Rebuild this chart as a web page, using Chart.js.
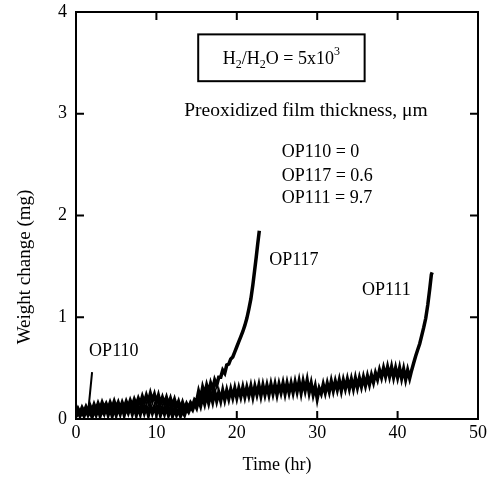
<!DOCTYPE html>
<html>
<head>
<meta charset="utf-8">
<script src="https://cdn.jsdelivr.net/npm/chart.js@4/dist/chart.umd.min.js"></script>
<style>
html,body{margin:0;padding:0;background:#fff;}
#wrap{width:492px;height:484px;position:relative;}
</style>
</head>
<body>
<div id="wrap"><canvas id="c" width="492" height="484"></canvas></div>
<script>
// ---- Data ----
const xTicks = [0, 10, 20, 30, 40, 50];
const yTicks = [0, 1, 2, 3, 4];

// sampling times of the noisy recorded traces (hr)
const timeGrid = [
  0, 0.25, 0.5, 0.75, 1, 1.25, 1.5, 1.75, 2, 2.25, 2.5, 2.75, 3, 3.25, 3.5, 3.75,
  4, 4.25, 4.5, 4.75, 5, 5.25, 5.5, 5.75, 6, 6.25, 6.5, 6.75, 7, 7.25, 7.5, 7.75,
  8, 8.25, 8.5, 8.75, 9, 9.25, 9.5, 9.75, 10, 10.25, 10.5, 10.75, 11, 11.25, 11.5, 11.75,
  12, 12.25, 12.5, 12.75, 13, 13.25, 13.5, 13.75, 14, 14.25, 14.5, 14.75, 15, 15.25, 15.5, 15.75,
  16, 16.25, 16.5, 16.75, 17, 17.25, 17.5, 17.75, 18, 18.25, 18.5, 18.75, 19, 19.25, 19.5, 19.75,
  20, 20.25, 20.5, 20.75, 21, 21.25, 21.5, 21.75, 22, 22.25, 22.5, 22.75, 23, 23.25, 23.5, 23.75,
  24, 24.25, 24.5, 24.75, 25, 25.25, 25.5, 25.75, 26, 26.25, 26.5, 26.75, 27, 27.25, 27.5, 27.75,
  28, 28.25, 28.5, 28.75, 29, 29.25, 29.5, 29.75, 30, 30.25, 30.5, 30.75, 31, 31.25, 31.5, 31.75,
  32, 32.25, 32.5, 32.75, 33, 33.25, 33.5, 33.75, 34, 34.25, 34.5, 34.75, 35, 35.25, 35.5, 35.75,
  36, 36.25, 36.5, 36.75, 37, 37.25, 37.5, 37.75, 38, 38.25, 38.5, 38.75, 39, 39.25, 39.5, 39.75,
  40, 40.25, 40.5, 40.75, 41, 41.25, 41.5, 41.75
];

const op110Time = [0, 0.25, 0.5, 0.75, 1, 1.25, 1.5, 1.75, 2.0];
const op110Mass = [0.03, 0.07, 0.03, 0.06, 0.03, 0.07, 0.06, 0.26, 0.46];

// OP117: noisy part on timeGrid (0 .. 21.75 hr), then the steep end
const op117Noisy = [
  0.05, 0.10, 0.06, 0.11, 0.07, 0.12, 0.08, 0.13, 0.08, 0.14, 0.09, 0.15, 0.10, 0.16, 0.11, 0.15,
  0.10, 0.16, 0.11, 0.17, 0.11, 0.16, 0.10, 0.16, 0.11, 0.17, 0.12, 0.18, 0.13, 0.19, 0.14, 0.20,
  0.15, 0.22, 0.16, 0.23, 0.17, 0.25, 0.18, 0.24, 0.16, 0.23, 0.15, 0.21, 0.15, 0.21, 0.14, 0.20,
  0.13, 0.19, 0.12, 0.17, 0.10, 0.16, 0.10, 0.15, 0.11, 0.16, 0.13, 0.19, 0.17, 0.27, 0.20, 0.31,
  0.24, 0.33, 0.26, 0.35, 0.29, 0.38, 0.33, 0.41, 0.41, 0.48, 0.45, 0.53, 0.54, 0.59, 0.61, 0.66,
  0.71, 0.76, 0.81, 0.86, 0.92, 0.99, 1.08, 1.18
];
const op117EndTime = [22.0, 22.2, 22.4, 22.6, 22.8];
const op117EndMass = [1.32, 1.45, 1.58, 1.72, 1.85];

// OP111: noisy part on timeGrid (0 .. 41.75 hr), then the steep end
const op111Noisy = [
  0.02, 0.08, 0.03, 0.07, 0.03, 0.09, 0.04, 0.08, 0.02, 0.09, 0.04, 0.10, 0.03, 0.09, 0.05, 0.11,
  0.04, 0.10, 0.03, 0.11, 0.04, 0.11, 0.05, 0.12, 0.04, 0.11, 0.06, 0.12, 0.05, 0.12, 0.04, 0.12,
  0.05, 0.13, 0.06, 0.12, 0.04, 0.13, 0.06, 0.12, 0.05, 0.12, 0.04, 0.11, 0.05, 0.12, 0.04, 0.11,
  0.03, 0.10, 0.04, 0.09, 0.03, 0.08, 0.04, 0.10, 0.07, 0.12, 0.09, 0.15, 0.11, 0.19, 0.13, 0.22,
  0.15, 0.24, 0.16, 0.25, 0.17, 0.27, 0.18, 0.26, 0.18, 0.28, 0.19, 0.28, 0.20, 0.29, 0.21, 0.30,
  0.21, 0.30, 0.22, 0.31, 0.22, 0.31, 0.23, 0.32, 0.22, 0.32, 0.24, 0.33, 0.23, 0.33, 0.24, 0.33,
  0.24, 0.34, 0.25, 0.34, 0.24, 0.34, 0.26, 0.35, 0.25, 0.35, 0.26, 0.35, 0.26, 0.36, 0.27, 0.37,
  0.26, 0.37, 0.28, 0.38, 0.26, 0.35, 0.24, 0.32, 0.20, 0.30, 0.25, 0.34, 0.26, 0.35, 0.27, 0.37,
  0.28, 0.37, 0.29, 0.38, 0.28, 0.38, 0.30, 0.39, 0.30, 0.39, 0.30, 0.40, 0.31, 0.40, 0.32, 0.41,
  0.33, 0.42, 0.34, 0.43, 0.36, 0.45, 0.39, 0.48, 0.41, 0.50, 0.42, 0.51, 0.42, 0.51, 0.41, 0.50,
  0.41, 0.50, 0.40, 0.49, 0.39, 0.48, 0.40, 0.48
];
const op111EndTime = [42.0, 42.25, 42.5, 42.75, 43.0, 43.25, 43.5, 43.75, 44.0, 44.2, 44.3];
const op111EndMass = [0.55, 0.62, 0.68, 0.74, 0.82, 0.90, 0.99, 1.12, 1.28, 1.42, 1.44];

const curveLabels = [
  {text: 'OP110', x: 4.7, y: 0.67},
  {text: 'OP117', x: 27.1, y: 1.56},
  {text: 'OP111', x: 38.6, y: 1.27}
];
const legendLines = ['OP110 = 0', 'OP117 = 0.6', 'OP111 = 9.7'];
const legendX = 25.6;
const legendY = [2.62, 2.39, 2.17];
const filmTitle = 'Preoxidized film thickness, \u03BCm';
const filmTitlePos = {x: 28.6, y: 3.03};
const yTitle = 'Weight change (mg)';
const xTitle = 'Time (hr)';

const pts = (t, v) => v.map((y, i) => ({x: t[i], y: y}));
const FONT = '"Liberation Serif", "Times New Roman", serif';

const framePlugin = {
  id: 'frame',
  afterDraw(chart) {
    const ctx = chart.ctx, a = chart.chartArea;
    const xs = chart.scales.x, ys = chart.scales.y;
    ctx.save();
    ctx.strokeStyle = '#000';
    ctx.lineWidth = 2;
    ctx.strokeRect(a.left, a.top, a.right - a.left, a.bottom - a.top);
    const L = 8;
    ctx.beginPath();
    xTicks.slice(1, -1).forEach(v => {
      const p = xs.getPixelForValue(v);
      ctx.moveTo(p, a.bottom); ctx.lineTo(p, a.bottom - L);
      ctx.moveTo(p, a.top); ctx.lineTo(p, a.top + L);
    });
    yTicks.slice(1, -1).forEach(v => {
      const p = ys.getPixelForValue(v);
      ctx.moveTo(a.left, p); ctx.lineTo(a.left + L, p);
      ctx.moveTo(a.right, p); ctx.lineTo(a.right - L, p);
    });
    ctx.stroke();

    ctx.fillStyle = '#000';
    ctx.font = '18px ' + FONT;
    ctx.textBaseline = 'middle';
    ctx.textAlign = 'center';
    curveLabels.forEach(l => {
      ctx.fillText(l.text, xs.getPixelForValue(l.x), ys.getPixelForValue(l.y));
    });
    ctx.font = '19.5px ' + FONT;
    ctx.fillText(filmTitle, xs.getPixelForValue(filmTitlePos.x), ys.getPixelForValue(filmTitlePos.y));
    ctx.font = '18px ' + FONT;
    ctx.textAlign = 'left';
    legendLines.forEach((s, i) => {
      ctx.fillText(s, xs.getPixelForValue(legendX), ys.getPixelForValue(legendY[i]));
    });

    // axis titles
    ctx.textAlign = 'center';
    ctx.fillText(xTitle, (a.left + a.right) / 2, 465);
    ctx.save();
    ctx.translate(25, 267);
    ctx.rotate(-Math.PI / 2);
    ctx.font = '19px ' + FONT;
    ctx.fillText(yTitle, 0, 0);
    ctx.restore();

    // boxed ratio label
    const bx0 = xs.getPixelForValue(15.2), bx1 = xs.getPixelForValue(35.9);
    const by0 = ys.getPixelForValue(3.78), by1 = ys.getPixelForValue(3.32);
    ctx.lineWidth = 2;
    ctx.strokeRect(bx0, by0, bx1 - bx0, by1 - by0);
    const parts = [
      ['H', 0], ['2', 1], ['/H', 0], ['2', 1], ['O = 5x10', 0], ['3', -1]
    ];
    const big = '18px ' + FONT, small = '12px ' + FONT;
    let w = 0;
    parts.forEach(p => { ctx.font = p[1] ? small : big; w += ctx.measureText(p[0]).width; });
    let cx = (bx0 + bx1) / 2 - w / 2;
    const cy = (by0 + by1) / 2 + 1;
    ctx.textAlign = 'left';
    parts.forEach(p => {
      ctx.font = p[1] ? small : big;
      const dy = p[1] === 1 ? 6 : (p[1] === -1 ? -7 : 0);
      ctx.fillText(p[0], cx, cy + dy);
      cx += ctx.measureText(p[0]).width;
    });
    ctx.restore();
  }
};

const ds = (label, data, w) => ({
  label: label,
  data: data,
  borderColor: '#000',
  backgroundColor: '#000',
  borderWidth: w,
  pointRadius: 0,
  tension: 0,
  fill: false
});

new Chart(document.getElementById('c'), {
  type: 'line',
  data: {
    datasets: [
      ds('OP110', pts(op110Time, op110Mass), 2),
      ds('OP117', pts(timeGrid, op117Noisy).concat(pts(op117EndTime, op117EndMass)), 3.5),
      ds('OP111', pts(timeGrid, op111Noisy).concat(pts(op111EndTime, op111EndMass)), 3.5)
    ]
  },
  options: {
    responsive: false,
    animation: false,
    layout: {autoPadding: false, padding: {top: 12, right: 14, left: 0, bottom: 0}},
    plugins: {legend: {display: false}, tooltip: {enabled: false}},
    scales: {
      x: {
        type: 'linear', min: 0, max: 50,
        afterBuildTicks: s => { s.ticks = xTicks.map(v => ({value: v})); },
        afterFit: s => { s.height = 65; s.paddingLeft = 0; s.paddingRight = 0; },
        grid: {display: false, drawTicks: false},
        border: {display: false},
        ticks: {color: '#000', font: {family: FONT, size: 18}, padding: 3, maxRotation: 0}
      },
      y: {
        type: 'linear', min: 0, max: 4,
        afterBuildTicks: s => { s.ticks = yTicks.map(v => ({value: v})); },
        afterFit: s => { s.width = 76; s.paddingTop = 0; s.paddingBottom = 0; },
        grid: {display: false, drawTicks: false},
        border: {display: false},
        ticks: {color: '#000', font: {family: FONT, size: 18}, padding: 9}
      }
    }
  },
  plugins: [framePlugin]
});
</script>
</body>
</html>
